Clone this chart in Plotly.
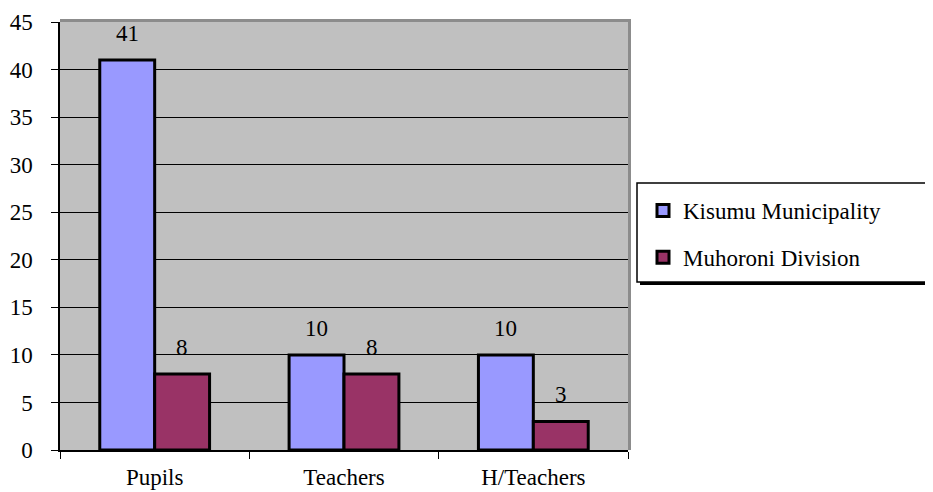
import plotly.graph_objects as go

categories = ["Pupils", "Teachers", "H/Teachers"]
kisumu = [41, 10, 10]
muhoroni = [8, 8, 3]
series_names = ["Kisumu Municipality", "Muhoroni Division"]
y_ticks = [0, 5, 10, 15, 20, 25, 30, 35, 40, 45]

FONT = "Liberation Serif"
BLUE = "#9999FF"
MAROON = "#993366"

OFF = 8  # page body margin
W, H = 933 - OFF, 492 - OFF
ML, MR, MT, MB = 60 - OFF, 933 - 628, 22 - OFF, 492 - 450
PW = W - ML - MR
PH = H - MT - MB


def px_x(p):
    return (p - OFF - ML) / PW


def px_y(p):
    return (H - MB - (p - OFF)) / PH


fig = go.Figure()
fig.add_trace(go.Bar(x=categories, y=kisumu, name=series_names[0],
                     marker=dict(color=BLUE, line=dict(color="black", width=3)),
                     legendgroup="a"))
fig.add_trace(go.Bar(x=categories, y=muhoroni, name=series_names[1],
                     marker=dict(color=MAROON, line=dict(color="black", width=3)),
                     legendgroup="b"))

annotations = []
for vals, shift in ((kisumu, -27.5), (muhoroni, 27.5)):
    for c, v in zip(categories, vals):
        annotations.append(dict(x=c, y=v, xref="x", yref="y", text=str(v),
                                showarrow=False, xshift=shift, yshift=12,
                                yanchor="bottom",
                                font=dict(family=FONT, size=23, color="black")))

shapes = [
    # darker wall edges
    dict(type="rect", xref="paper", yref="paper", x0=0, x1=px_x(631), y0=1, y1=px_y(19),
         fillcolor="#8C8C8C", line=dict(width=0), layer="below"),
    dict(type="rect", xref="paper", yref="paper", x0=1, x1=px_x(631), y0=0, y1=px_y(19),
         fillcolor="#8C8C8C", line=dict(width=0), layer="below"),
    # legend shadow
    dict(type="rect", xref="paper", yref="paper", x0=px_x(640), x1=px_x(931),
         y0=px_y(285), y1=px_y(186), fillcolor="black", line=dict(width=0)),
    # legend box
    dict(type="rect", xref="paper", yref="paper", x0=px_x(637), x1=px_x(928),
         y0=px_y(282), y1=px_y(183), fillcolor="white", line=dict(color="black", width=1.5)),
]

fig.update_layout(
    width=W, height=H,
    margin=dict(l=ML, r=MR, t=MT, b=MB),
    paper_bgcolor="white",
    plot_bgcolor="#C0C0C0",
    barmode="group",
    bargap=0.42,
    bargroupgap=0,
    font=dict(family=FONT, size=23, color="black"),
    showlegend=True,
    legend=dict(x=px_x(643), y=px_y(234), xanchor="left", yanchor="middle",
                bgcolor="rgba(0,0,0,0)", borderwidth=0, tracegroupgap=14,
                font=dict(family=FONT, size=23, color="black")),
    xaxis=dict(type="category", showline=True, linecolor="black", linewidth=1.5,
               ticks="outside", tickson="boundaries", ticklen=7, tickcolor="black",
               tickfont=dict(family=FONT, size=23), ticklabelstandoff=6,
               showgrid=False, zeroline=False, automargin=False),
    yaxis=dict(range=[0, 45], tickvals=y_ticks, showline=True, linecolor="black",
               linewidth=1.5, ticks="outside", ticklen=7, tickcolor="black",
               showgrid=True, gridcolor="black", gridwidth=1, zeroline=False,
               tickfont=dict(family=FONT, size=23), ticklabelstandoff=14,
               automargin=False),
    annotations=annotations,
    shapes=shapes,
)

fig.write_html("out.html")
